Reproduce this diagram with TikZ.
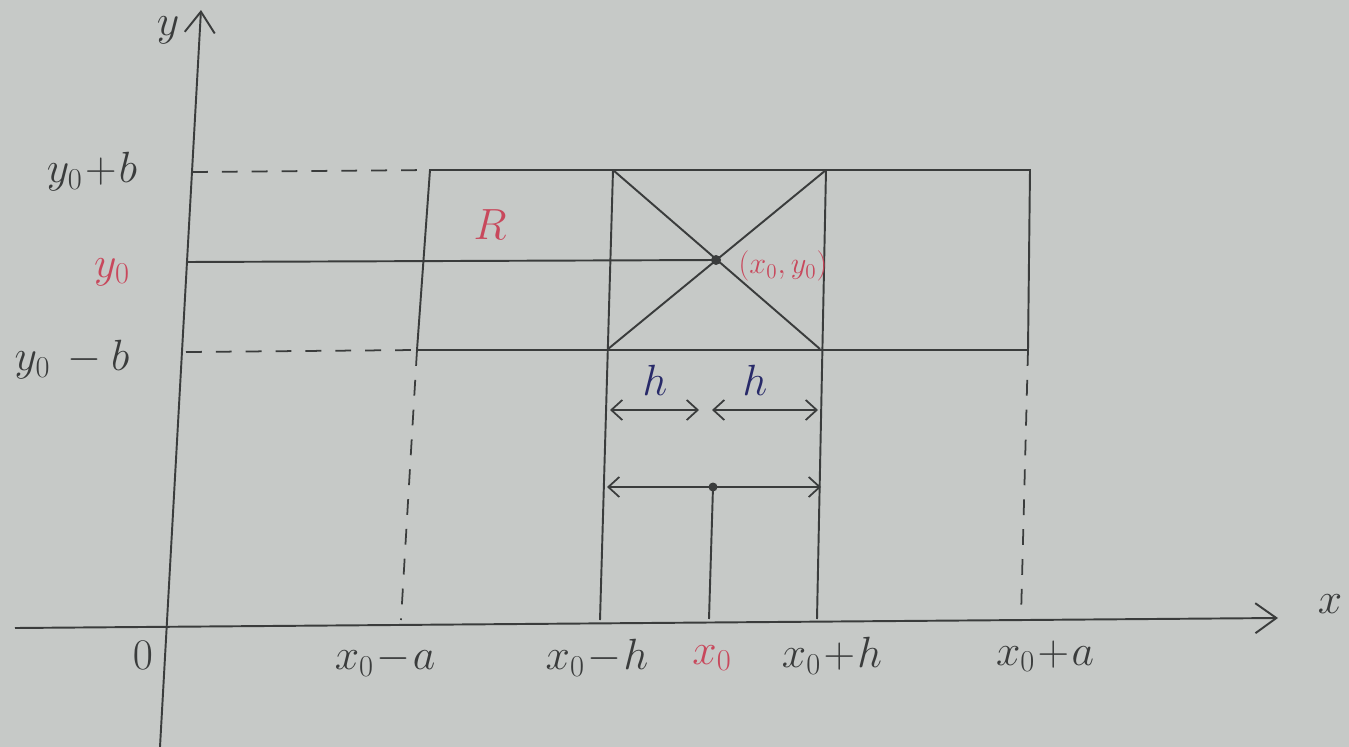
\documentclass[tikz,border=0pt]{standalone}
\usetikzlibrary{arrows.meta}
\definecolor{paper}{RGB}{198,201,199}
\definecolor{ink}{RGB}{58,60,60}
\definecolor{redink}{RGB}{200,72,92}
\definecolor{blueink}{RGB}{40,42,105}
\begin{document}
\begin{tikzpicture}[x=0.02cm,y=-0.02cm,
  inkline/.style={draw=ink,line width=1.1pt},
  dashline/.style={draw=ink,line width=1pt,dash pattern=on 9pt off 8pt},
  axistip/.style={-{Straight Barb[length=0.42cm,width=0.6cm,line width=1.1pt]}},
  dimtip/.style={{Straight Barb[length=0.22cm,width=0.4cm,line width=1pt]}-{Straight Barb[length=0.22cm,width=0.4cm,line width=1pt]}},
  lbl/.style={text=ink,font=\fontsize{26}{30}\selectfont,inner sep=1pt},
  rlbl/.style={text=redink,font=\fontsize{26}{30}\selectfont,inner sep=1pt},
  hlbl/.style={text=blueink,font=\fontsize{26}{30}\selectfont,inner sep=1pt}]
\fill[paper] (0,0) rectangle (1349,747);
\useasboundingbox (0,0) rectangle (1349,747);
% axes
\coordinate (ax0) at (15,628);
\coordinate (ax1) at (1278,618);
\coordinate (ay0) at (160,747);
\coordinate (ay1) at (201,10);
\draw[inkline,axistip] (ax0) -- (ax1);
\draw[inkline,axistip] (ay0) -- (ay1);
\node[lbl,font=\fontsize{32}{36}\selectfont] (xl) at (1330,604) {$x$};
\node[lbl,font=\fontsize{32}{36}\selectfont] (yl) at (168,30) {$y$};
\node[lbl] (o) at (143,655) {$0$};
% rectangle R corners
\coordinate (tl) at (430,170);
\coordinate (tr) at (1030,170);
\coordinate (bl) at (417,350);
\coordinate (br) at (1028,350);
\draw[inkline] (tl) -- (tr) -- (br) -- (bl) -- cycle;
% inner verticals
\coordinate (it1) at (613,170);
\coordinate (ib1) at (608,349);
\coordinate (ia1) at (600,620);
\coordinate (it2) at (826,170);
\coordinate (ib2) at (820,349);
\coordinate (ia2) at (817,619);
\draw[inkline] (it1) -- (ia1);
\draw[inkline] (it2) -- (ia2);
% diagonals
\coordinate (c) at (716,260);
\draw[inkline] (it1) -- (ib2);
\draw[inkline] (it2) -- (ib1);
% y0 line
\coordinate (y0l) at (186,262);
\draw[inkline] (y0l) -- (c);
\fill[ink] (c) circle (5);
% dashed guides
\coordinate (dtl) at (192,172);
\coordinate (dbl) at (186,352);
\draw[dashline] (dtl) -- (tl);
\draw[dashline] (dbl) -- (bl);
\coordinate (xa1) at (401,620);
\coordinate (xa2) at (1021,617);
\draw[dashline] (bl) -- (xa1);
\draw[dashline] (br) -- (xa2);
% h dimension arrows
\coordinate (h1a) at (610,410);
\coordinate (h1b) at (699,410);
\coordinate (h2a) at (712,410);
\coordinate (h2b) at (818,410);
\draw[inkline,dimtip] (h1a) -- (h1b);
\draw[inkline,dimtip] (h2a) -- (h2b);
\node[hlbl] (h1) at (655,380) {$h$};
\node[hlbl] (h2) at (755,380) {$h$};
% 2h arrow
\coordinate (w1) at (607,487);
\coordinate (w2) at (821,487);
\coordinate (m) at (713,487);
\coordinate (mb) at (709,619);
\draw[inkline,dimtip] (w1) -- (w2);
\fill[ink] (m) circle (4.5);
\draw[inkline] (m) -- (mb);
% labels
\node[lbl] (lyb) at (92,172) {$y_0\!+\!b$};
\node[rlbl] (ly0) at (112,272) {$y_0$};
\node[lbl] (lymb) at (72,360) {$y_0\,-b$};
\node[rlbl] (lR) at (490,225) {$R$};
\node[rlbl,font=\fontsize{17}{19}\selectfont] (lc) at (783,266) {$(x_0,y_0)$};
\node[lbl] (lxa) at (385,660) {$x_0\!-\!a$};
\node[lbl] (lxh) at (597,658) {$x_0\!-\!h$};
\node[rlbl] (lx0) at (712,658) {$x_0$};
\node[lbl] (lxph) at (832,656) {$x_0\!+\!h$};
\node[lbl] (lxpa) at (1045,656) {$x_0\!+\!a$};
\end{tikzpicture}
\end{document}
